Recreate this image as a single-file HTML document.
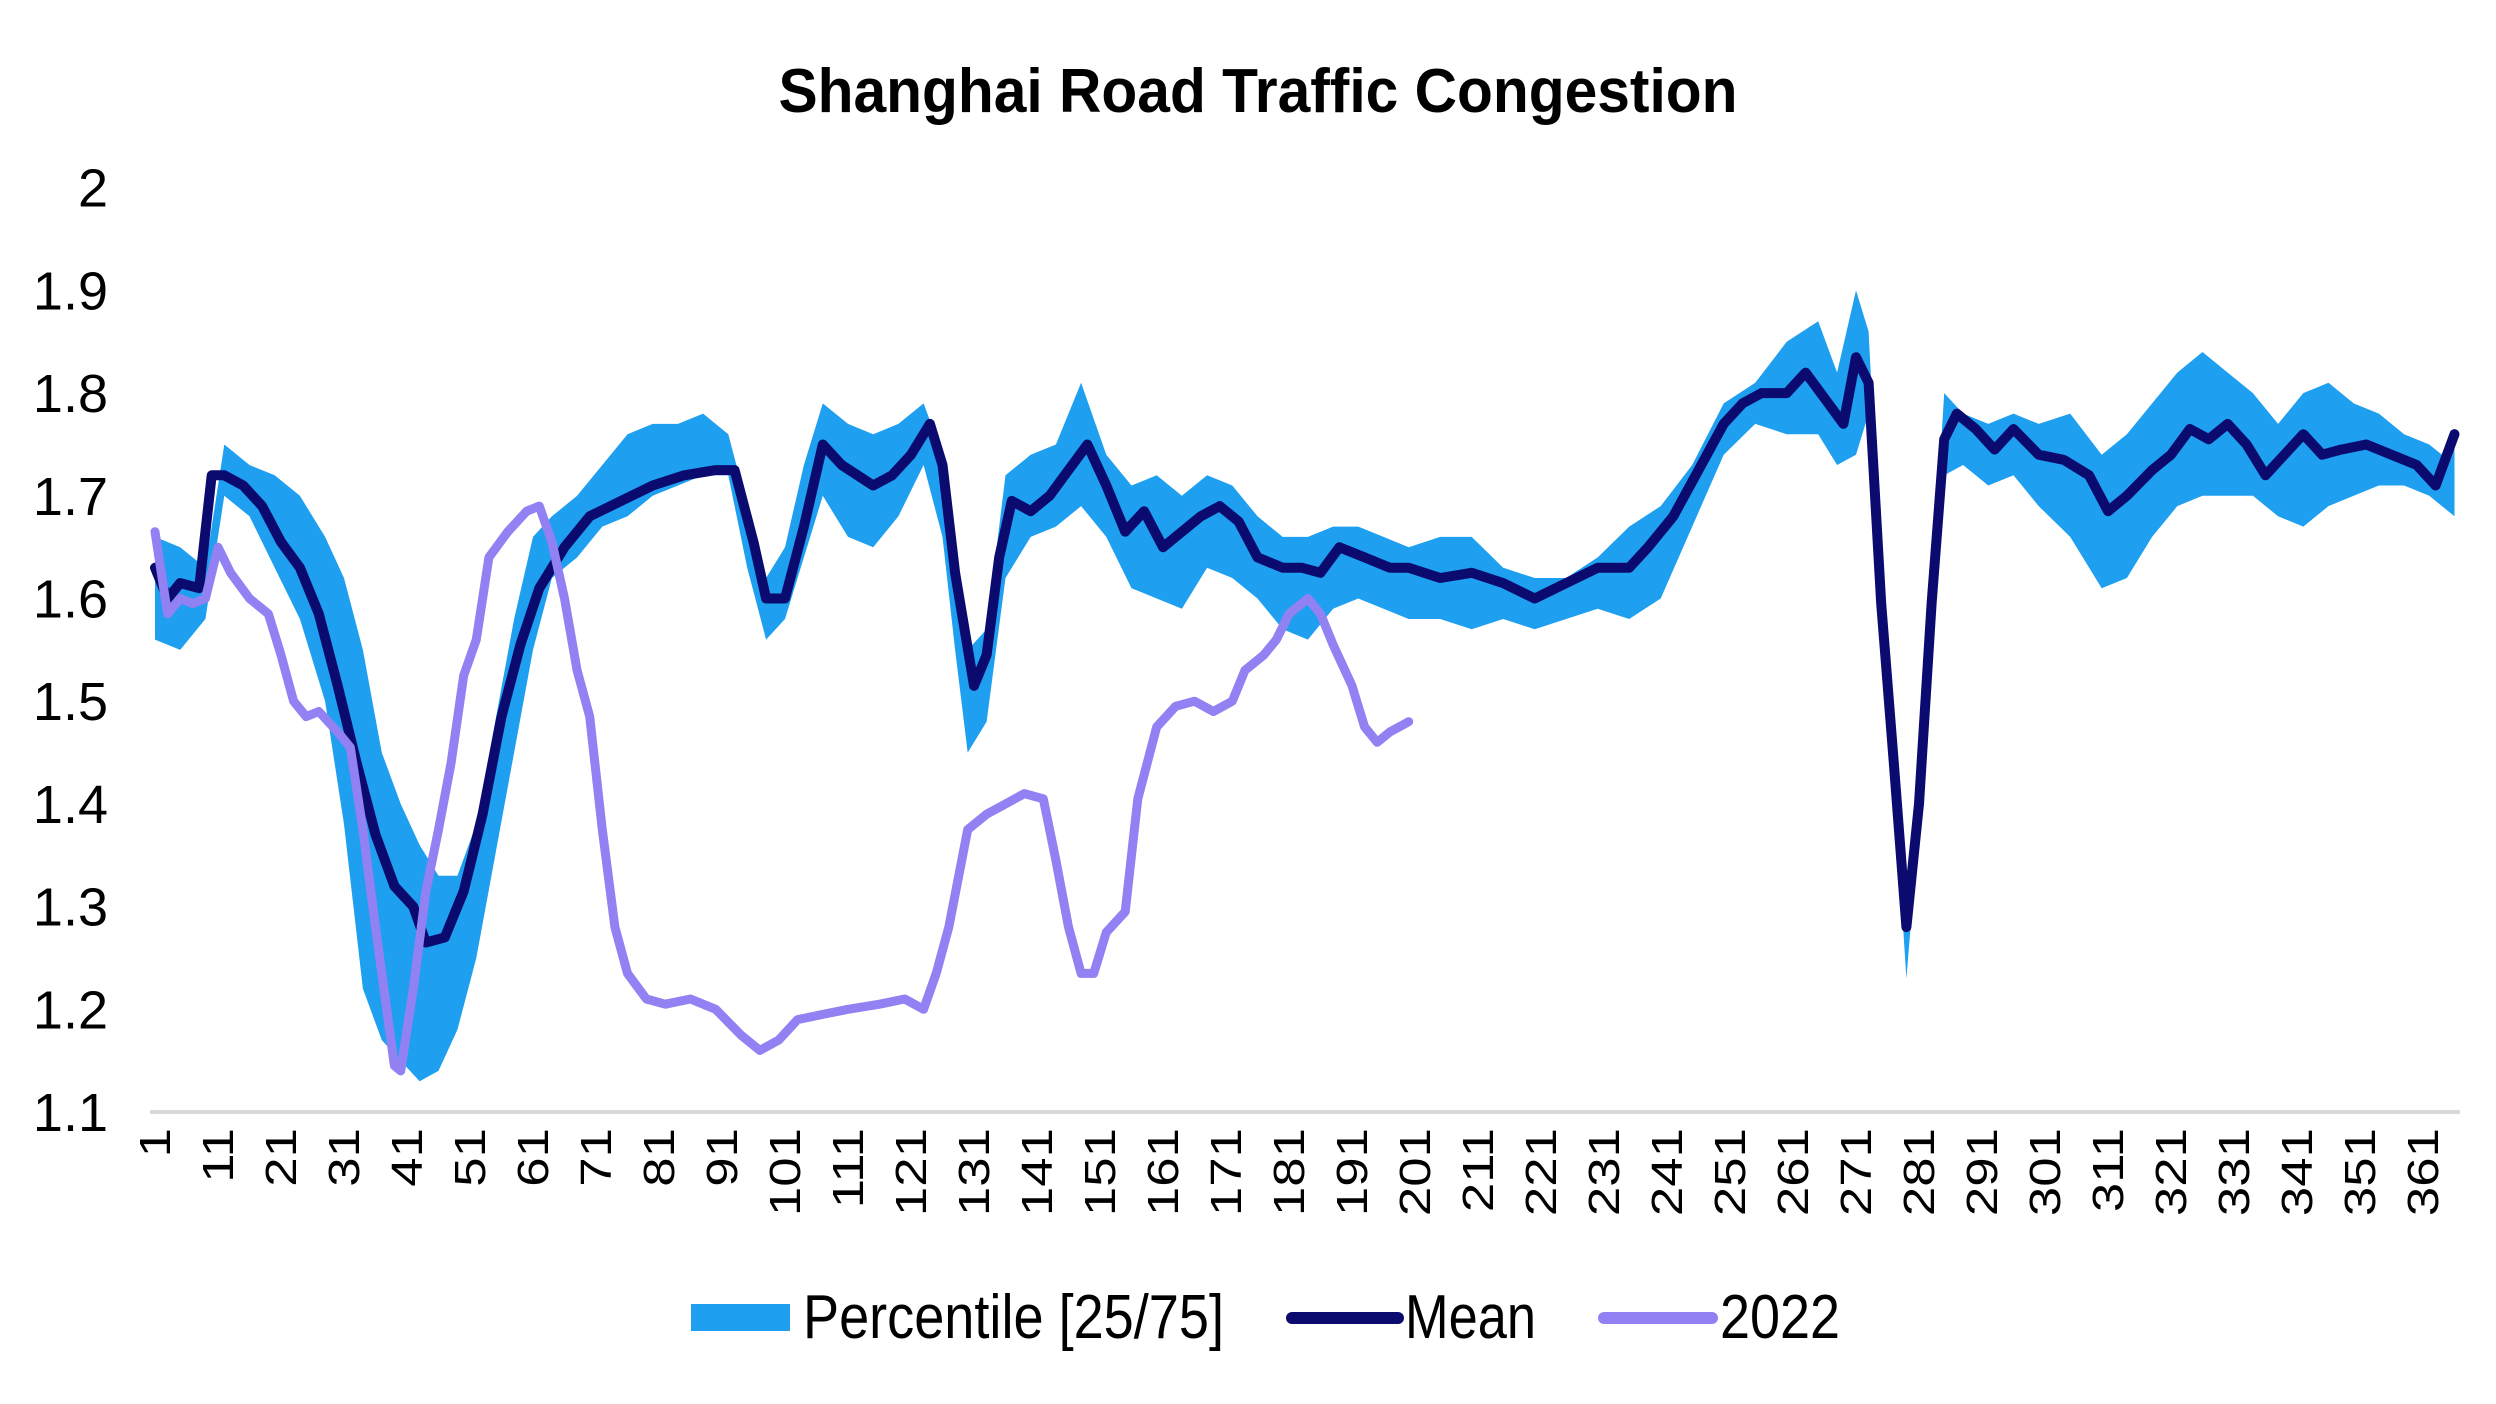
<!DOCTYPE html>
<html><head><meta charset="utf-8"><style>
html,body{margin:0;padding:0;background:#fff}
svg{display:block;font-family:"Liberation Sans",Arial,sans-serif}
</style></head><body>
<svg id="chart" width="2496" height="1404" viewBox="0 0 2496 1404" xmlns="http://www.w3.org/2000/svg">
<text x="1258" y="112" text-anchor="middle" font-size="62" font-weight="bold" textLength="959" lengthAdjust="spacingAndGlyphs">Shanghai Road Traffic Congestion</text>
<g id="yaxis"></g>
<g id="band"></g>
<line x1="150" y1="1112" x2="2460" y2="1112" stroke="#d9d9d9" stroke-width="4"/>
<g id="series"></g>
<g id="xaxis"></g>
<g>
  <rect x="691" y="1304" width="99" height="27" fill="#1e9ff0"/>
  <text x="803" y="1338" font-size="62" textLength="421" lengthAdjust="spacingAndGlyphs">Percentile [25/75]</text>
  <line x1="1292" y1="1318" x2="1398" y2="1318" stroke="#0b0b6f" stroke-width="12" stroke-linecap="round"/>
  <text x="1405" y="1338" font-size="62" textLength="131" lengthAdjust="spacingAndGlyphs">Mean</text>
  <line x1="1604" y1="1318" x2="1712" y2="1318" stroke="#9181f2" stroke-width="12" stroke-linecap="round"/>
  <text x="1720" y="1338" font-size="62" textLength="120" lengthAdjust="spacingAndGlyphs">2022</text>
</g>
</svg>
<script>
const yTicks=[1.1,1.2,1.3,1.4,1.5,1.6,1.7,1.8,1.9,2];
const yTickLabels=["1.1","1.2","1.3","1.4","1.5","1.6","1.7","1.8","1.9","2"];
const xTickDays=[1,11,21,31,41,51,61,71,81,91,101,111,121,131,141,151,161,171,181,191,201,211,221,231,241,251,261,271,281,291,301,311,321,331,341,351,361];

const meanDays=[1,3,5,8,10,12,15,18,21,24,27,30,33,36,39,42,44,47,50,53,56,59,62,66,70,75,80,85,90,93,96,98,101,104,107,110,115,118,121,124,126,128,131,133,135,137,140,143,146,149,152,155,158,161,164,167,170,173,176,180,183,186,189,193,197,200,205,210,215,220,225,230,235,238,242,246,250,253,256,260,263,266,269,271,273,275,277,279,281,283,285,287,290,293,296,300,304,308,311,314,318,321,324,327,330,333,336,339,342,345,348,352,356,360,363,366];
const meanValues=[1.63,1.60,1.615,1.61,1.72,1.72,1.71,1.69,1.655,1.63,1.585,1.515,1.44,1.37,1.32,1.30,1.265,1.27,1.315,1.39,1.485,1.555,1.61,1.65,1.68,1.695,1.71,1.72,1.725,1.725,1.655,1.60,1.60,1.67,1.75,1.73,1.71,1.72,1.74,1.77,1.73,1.625,1.515,1.545,1.64,1.695,1.685,1.70,1.725,1.75,1.71,1.665,1.685,1.65,1.665,1.68,1.69,1.675,1.64,1.63,1.63,1.625,1.65,1.64,1.63,1.63,1.62,1.625,1.615,1.60,1.615,1.63,1.63,1.65,1.68,1.725,1.77,1.79,1.80,1.80,1.82,1.795,1.77,1.835,1.81,1.595,1.44,1.28,1.40,1.595,1.755,1.78,1.765,1.745,1.765,1.74,1.735,1.72,1.685,1.70,1.725,1.74,1.765,1.755,1.77,1.75,1.72,1.74,1.76,1.74,1.745,1.75,1.74,1.73,1.71,1.76];

const bandDays=[1,5,9,12,16,20,24,28,31,34,37,40,43,46,49,52,55,58,61,64,68,72,76,80,84,88,92,95,98,101,104,107,111,115,119,123,126,128,130,133,136,140,144,148,152,156,160,164,168,172,176,180,184,188,192,196,200,205,210,215,220,225,230,235,240,245,250,255,260,265,268,271,273,275,277,279,281,283,285,288,292,296,300,305,310,314,318,322,326,330,334,338,342,346,350,354,358,362,364,366];
const bandUpper=[1.66,1.65,1.63,1.75,1.73,1.72,1.70,1.66,1.62,1.55,1.45,1.40,1.36,1.33,1.33,1.38,1.48,1.58,1.66,1.68,1.70,1.73,1.76,1.77,1.77,1.78,1.76,1.69,1.62,1.65,1.73,1.79,1.77,1.76,1.77,1.79,1.74,1.66,1.55,1.57,1.72,1.74,1.75,1.81,1.74,1.71,1.72,1.70,1.72,1.71,1.68,1.66,1.66,1.67,1.67,1.66,1.65,1.66,1.66,1.63,1.62,1.62,1.64,1.67,1.69,1.73,1.79,1.81,1.85,1.87,1.82,1.90,1.86,1.62,1.46,1.30,1.42,1.60,1.80,1.78,1.77,1.78,1.77,1.78,1.74,1.76,1.79,1.82,1.84,1.82,1.80,1.77,1.80,1.81,1.79,1.78,1.76,1.75,1.74,1.76];
const bandLower=[1.56,1.55,1.58,1.70,1.68,1.63,1.58,1.50,1.38,1.22,1.17,1.15,1.13,1.14,1.18,1.25,1.35,1.45,1.55,1.62,1.64,1.67,1.68,1.70,1.71,1.72,1.72,1.63,1.56,1.58,1.64,1.70,1.66,1.65,1.68,1.73,1.66,1.55,1.45,1.48,1.62,1.66,1.67,1.69,1.66,1.61,1.60,1.59,1.63,1.62,1.60,1.57,1.56,1.59,1.60,1.59,1.58,1.58,1.57,1.58,1.57,1.58,1.59,1.58,1.60,1.67,1.74,1.77,1.76,1.76,1.73,1.74,1.78,1.57,1.42,1.23,1.38,1.58,1.72,1.73,1.71,1.72,1.69,1.66,1.61,1.62,1.66,1.69,1.70,1.70,1.70,1.68,1.67,1.69,1.70,1.71,1.71,1.70,1.69,1.68];

const y2022Days=[1,3,5,7,9,11,13,16,19,21,23,25,27,30,32,34,36,38,39,40,42,44,46,48,50,52,54,57,60,62,64,66,68,70,72,74,76,79,82,86,90,94,97,100,103,107,111,116,120,123,125,127,130,133,136,139,142,144,146,148,150,152,155,157,160,163,166,169,172,174,177,179,181,184,186,188,191,193,195,197,200];
const y2022Values=[1.665,1.585,1.60,1.595,1.60,1.65,1.625,1.60,1.585,1.545,1.50,1.485,1.49,1.47,1.455,1.375,1.28,1.19,1.145,1.14,1.22,1.315,1.375,1.44,1.525,1.56,1.64,1.665,1.685,1.69,1.655,1.60,1.53,1.485,1.375,1.28,1.235,1.21,1.205,1.21,1.20,1.175,1.16,1.17,1.19,1.195,1.20,1.205,1.21,1.20,1.235,1.28,1.375,1.39,1.40,1.41,1.405,1.345,1.28,1.235,1.235,1.275,1.295,1.405,1.475,1.495,1.50,1.49,1.50,1.53,1.545,1.56,1.585,1.60,1.585,1.555,1.515,1.475,1.46,1.47,1.48];

const NS="http://www.w3.org/2000/svg";
function xScale(d){return 155+(d-1)*6.3;}
function yScale(v){return 1112-(v-1.1)*1027;}
function mk(tag,parent,attrs){const e=document.createElementNS(NS,tag);for(const k in attrs)e.setAttribute(k,attrs[k]);parent.appendChild(e);return e;}

const yAxis=document.getElementById('yaxis');
yTicks.forEach((t,i)=>{
  const el=mk('text',yAxis,{x:108,y:yScale(t)+19,'text-anchor':'end','font-size':54});
  
  
  el.textContent=yTickLabels[i];
});

const xAxis=document.getElementById('xaxis');
xTickDays.forEach(d=>{
  const x=xScale(d)+15;
  const el=mk('text',xAxis,{transform:`translate(${x},1128) rotate(-90) scale(1.2,1)`,'text-anchor':'end','font-size':44});
  
  
  el.textContent=String(d);
});

const band=document.getElementById('band');
let pts=[];
bandDays.forEach((d,i)=>pts.push(xScale(d).toFixed(1)+','+yScale(bandUpper[i]).toFixed(1)));
for(let i=bandDays.length-1;i>=0;i--)pts.push(xScale(bandDays[i]).toFixed(1)+','+yScale(bandLower[i]).toFixed(1));
const poly=mk('polygon',band,{points:pts.join(' '),fill:'#1e9ff0'});



const series=document.getElementById('series');
const meanPts=meanDays.map((d,i)=>xScale(d).toFixed(1)+','+yScale(meanValues[i]).toFixed(1)).join(' ');
const meanLine=mk('polyline',series,{points:meanPts,fill:'none',stroke:'#0b0b6f','stroke-width':10,'stroke-linejoin':'round','stroke-linecap':'round'});


const p22=y2022Days.map((d,i)=>xScale(d).toFixed(1)+','+yScale(y2022Values[i]).toFixed(1)).join(' ');
const line22=mk('polyline',series,{points:p22,fill:'none',stroke:'#9181f2','stroke-width':9,'stroke-linejoin':'round','stroke-linecap':'round'});


</script>
</body></html>
